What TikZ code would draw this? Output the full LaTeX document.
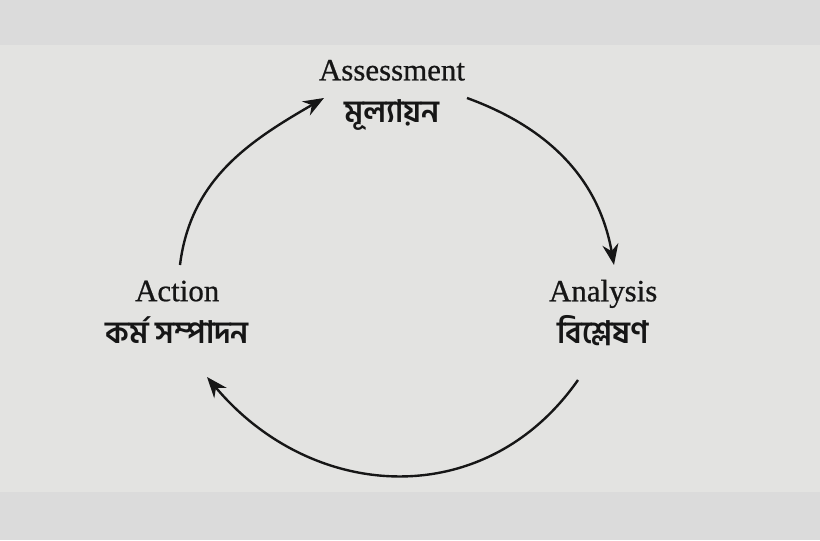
\documentclass[tikz,border=0pt]{standalone}
\usepackage{fontspec}
\setmainfont{Liberation Serif}[FakeBold=0.7]
\newfontfamily\bnfont[Script=Bengali]{Hind Siliguri}
\usepackage{tikz}
\usetikzlibrary{arrows.meta}
\definecolor{paper}{HTML}{E3E3E1}
\definecolor{paperedge}{HTML}{DBDBDB}
\definecolor{ink}{HTML}{161616}

\begin{document}
\begin{tikzpicture}[thick,
	stage/.style={align=center,text=ink,font=\fontsize{22}{30}\selectfont,inner sep=2pt},
	cycle/.style={ink,line width=1.7pt,-{Stealth[length=5.2mm,width=4mm]}}]
	\fill[paper] (0,0) rectangle (20.5,13.5);
	\fill[paperedge] (0,12.375) rectangle (20.5,13.5);
	\fill[paperedge] (0,0) rectangle (20.5,1.2);
	\useasboundingbox (0,0) rectangle (20.5,13.5);
	
	\node[stage] (assess) at (9.8,11.12) {Assessment\\{\bnfont\bfseries মূল্যায়ন}};
	\node[stage] (analysis) at (15.08,5.68) {Analysis\\{\bnfont\bfseries বিশ্লেষণ}};
	\node[stage] (action) at (4.43,5.7) {Action\\{\bnfont\bfseries কর্ম সম্পাদন}};
	
	\coordinate (c1) at (4.5,6.875);
	\coordinate (c2) at (8.1,11.05);
	\coordinate (c3) at (11.675,11.05);
	\coordinate (c4) at (15.35,6.875);
	\coordinate (c5) at (14.45,4.0);
	\coordinate (c6) at (5.175,4.075);
	
	\draw[cycle] (c1) to[out=83,in=210] (c2);
	\draw[cycle] (c3) to[out=-20,in=100] (c4);
	\draw[cycle] (c5) to[out=-125,in=-50,looseness=1.12] (c6);
\end{tikzpicture}
\end{document}
